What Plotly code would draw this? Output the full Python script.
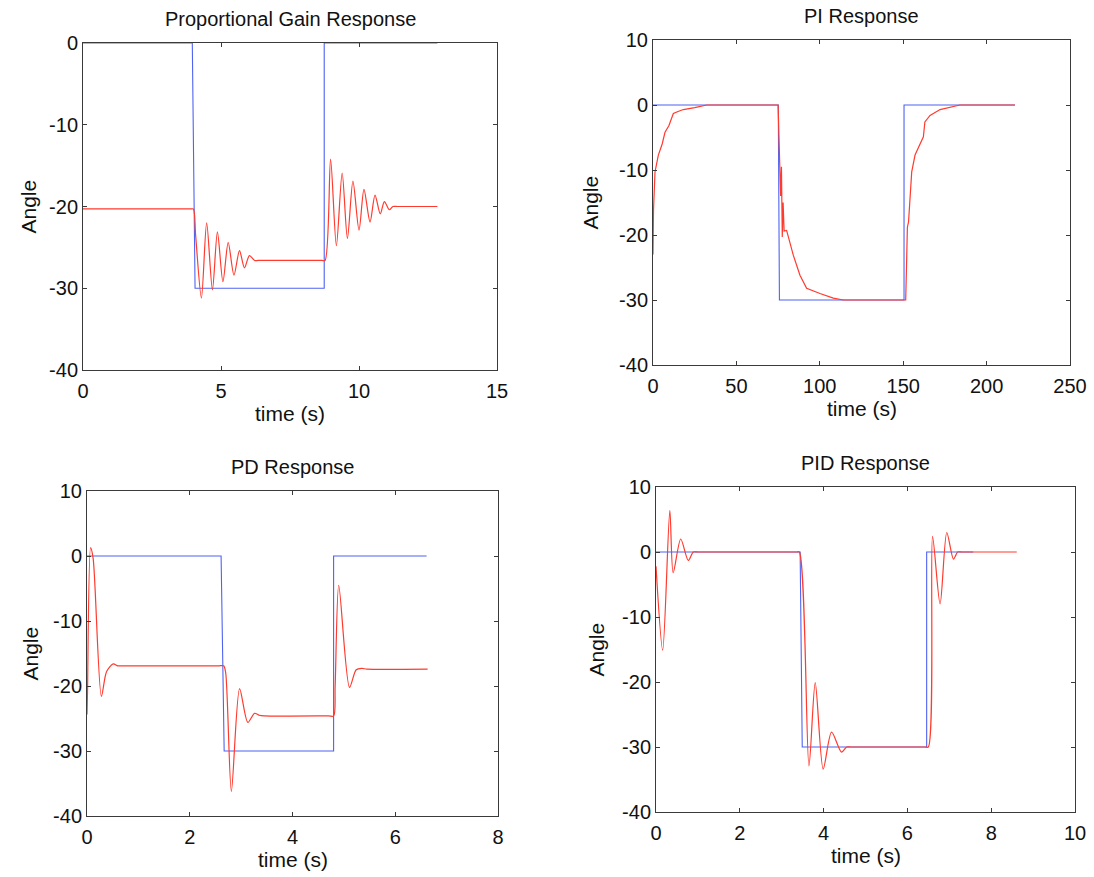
import plotly.graph_objects as go

W, H = 1094, 877

# ---------------- data ----------------
# Proportional gain
p_ref_t = [0, 3.96, 4.06, 8.74, 8.74, 12.84]
p_ref_y = [0, 0, -30, -30, 0, 0]
p_out_t = [0, 3.9, 4.0, 4.08, 4.29, 4.48, 4.69, 4.87, 5.07, 5.26, 5.47, 5.67, 5.85, 6.03, 6.22, 6.35,
           8.65, 8.77, 8.97, 9.18, 9.39, 9.58, 9.78, 10.0, 10.18, 10.4, 10.58, 10.77, 10.92, 11.1, 11.23,
           11.4, 12.84]
p_out_y = [-20.3, -20.3, -20.3, -23.5, -31.2, -22.0, -30.2, -23.1, -29.2, -24.4, -28.4, -25.4, -27.5, -26.0,
           -26.6, -26.6, -26.6, -26.6, -14.2, -24.8, -15.9, -23.9, -16.9, -22.9, -17.9, -21.9, -18.6, -20.9,
           -19.4, -20.4, -20.0, -20.0, -20.0]

# PI
pi_ref_t = [0, 75.1, 75.8, 150.5, 150.5, 217]
pi_ref_y = [0, 0, -30, -30, 0, 0]
pi_out_t = [0, 0.3, 1.2, 3.2, 5.5, 7.2, 9.5, 12.2, 15.0, 18.2, 25.0, 32.2, 75.0,
            75.4, 76.0, 76.5, 77.0, 77.5, 78.0, 78.6, 80.1, 84.1, 88.1, 92.1, 100.1, 108.1, 114.1, 151.5,
            152.0, 152.5, 153.2, 154.0, 155.1, 157.1, 160.0, 162.1, 163.0, 166.1, 172.1, 184.0, 217]
pi_out_y = [-23.0, -16.2, -10.3, -7.7, -6.0, -4.2, -3.2, -1.3, -1.0, -0.7, -0.4, 0, 0,
            -3.4, -10.3, -14.0, -9.5, -20.3, -15.0, -19.4, -19.3, -23.1, -26.2, -28.2, -29.0, -29.7, -30.0,
            -30.0, -24.6, -18.8, -18.0, -14.0, -10.3, -7.7, -6.0, -4.9, -2.6, -1.6, -0.7, 0, 0]

# PD
pd_ref_t = [0, 2.61, 2.67, 4.8, 4.8, 6.61]
pd_ref_y = [0, 0, -30, -30, 0, 0]
pd_out_t = [0, 0.01, 0.07, 0.12, 0.28, 0.38, 0.51, 0.6, 0.7, 2.55, 2.66,
            2.70, 2.81, 2.97, 3.13, 3.26, 3.35, 3.45, 4.7, 4.8,
            4.83, 4.9, 5.11, 5.24, 5.35, 5.45, 6.63]
pd_out_y = [-24.4, -20.9, 1.3, -0.4, -21.6, -17.8, -16.6, -16.9, -16.9, -16.9, -16.9,
            -18.0, -36.2, -20.4, -25.6, -24.2, -24.5, -24.6, -24.6, -24.6,
            -20.0, -4.5, -20.2, -17.5, -17.3, -17.4, -17.4]

# PID
pid_ref_t = [0, 3.44, 3.49, 6.46, 6.46, 7.57]
pid_ref_y = [0, 0, -30, -30, 0, 0]
pid_out_t = [0, 0.16, 0.33, 0.41, 0.59, 0.77, 0.89, 1.0, 3.35, 3.42,
             3.65, 3.80, 3.99, 4.19, 4.43, 4.55, 4.65, 6.42, 6.50,
             6.60, 6.78, 6.94, 7.10, 7.20, 7.3, 8.61]
pid_out_y = [-2.2, -15.1, 6.4, -3.2, 2.0, -1.3, 0, 0, 0, 0,
             -32.9, -20.1, -33.4, -27.7, -30.8, -30.0, -30.0, -30.0, -30.0,
             2.4, -8.0, 3.0, -1.1, 0, 0, 0]

titles = ["Proportional Gain Response", "PI Response", "PD Response", "PID Response"]
x_ranges = [[0, 15], [0, 250], [0, 8], [0, 10]]
x_tickvals = [[0, 5, 10, 15], [0, 50, 100, 150, 200, 250], [0, 2, 4, 6, 8], [0, 2, 4, 6, 8, 10]]
x_ticktext = [["0", "5", "10", "15"], ["0", "50", "100", "150", "200", "250"],
              ["0", "2", "4", "6", "8"], ["0", "2", "4", "6", "8", "10"]]
y_ranges = [[-40, 0], [-40, 10], [-40, 10], [-40, 10]]
y_tickvals = [[-40, -30, -20, -10, 0]] + [[-40, -30, -20, -10, 0, 10]] * 3
y_ticktext = [["-40", "-30", "-20", "-10", "0"]] + [["-40", "-30", "-20", "-10", "0", "10"]] * 3

# ---------------- layout geometry (pixels) ----------------
boxes = [  # left, right, top, bottom
    (83, 497, 43, 370),
    (653, 1070, 40, 365),
    (87, 498, 491, 816),
    (656, 1075, 487, 812),
]
angle_x = [28, 590, 30, 596]

BLUE = "#4f63f2"
RED = "#ff3a2e"
FONT = "Liberation Sans, Arial, sans-serif"
TXT = "#111111"

fig = go.Figure()
series = [
    (p_ref_t, p_ref_y, p_out_t, p_out_y),
    (pi_ref_t, pi_ref_y, pi_out_t, pi_out_y),
    (pd_ref_t, pd_ref_y, pd_out_t, pd_out_y),
    (pid_ref_t, pid_ref_y, pid_out_t, pid_out_y),
]
layout = {}
annotations = []
for i, ((rt, ry, ot, oy), (l, r, t, b)) in enumerate(zip(series, boxes)):
    n = "" if i == 0 else str(i + 1)
    xa, ya = "x" + n, "y" + n
    shape = "linear" if i == 1 else "spline"
    fig.add_trace(go.Scatter(x=rt, y=ry, mode="lines", xaxis=xa, yaxis=ya,
                             line=dict(color=BLUE, width=1.1), showlegend=False))
    fig.add_trace(go.Scatter(x=ot, y=oy, mode="lines", xaxis=xa, yaxis=ya,
                             line=dict(color=RED, width=1.2, shape=shape, smoothing=0.8),
                             showlegend=False))
    axis_common = dict(showgrid=False, zeroline=False, showline=True, linecolor="#3a3a3a",
                       linewidth=1, mirror="ticks", ticks="inside", ticklen=4, automargin=False,
                       tickcolor="#3a3a3a", tickfont=dict(size=20, color=TXT, family=FONT))
    layout["xaxis" + n] = dict(domain=[l / W, r / W], range=x_ranges[i], tickmode="array",
                               tickvals=x_tickvals[i], ticktext=x_ticktext[i], anchor=ya,
                               ticklabelstandoff=3, **axis_common)
    layout["yaxis" + n] = dict(domain=[1 - b / H, 1 - t / H], range=y_ranges[i], tickmode="array",
                               tickvals=y_tickvals[i], ticktext=y_ticktext[i], anchor=xa, **axis_common)
    cx = (l + r) / 2
    annotations.append(dict(text=titles[i], x=cx / W, y=1 - (t - 24) / H, xref="paper", yref="paper",
                            xanchor="center", yanchor="middle", showarrow=False,
                            font=dict(size=20, color=TXT, family=FONT)))
    annotations.append(dict(text="time (s)", x=cx / W, y=1 - (b + 43) / H, xref="paper", yref="paper",
                            xanchor="center", yanchor="middle", showarrow=False,
                            font=dict(size=21, color=TXT, family=FONT)))
    annotations.append(dict(text="Angle", x=angle_x[i] / W, y=1 - ((t + b) / 2) / H, xref="paper",
                            yref="paper", xanchor="center", yanchor="middle", textangle=-90,
                            showarrow=False, font=dict(size=21, color=TXT, family=FONT)))

fig.update_layout(width=W, height=H, margin=dict(l=0, r=0, t=0, b=0, autoexpand=False),
                  paper_bgcolor="white", plot_bgcolor="white",
                  annotations=annotations, **layout)
fig.write_html("out.html")
